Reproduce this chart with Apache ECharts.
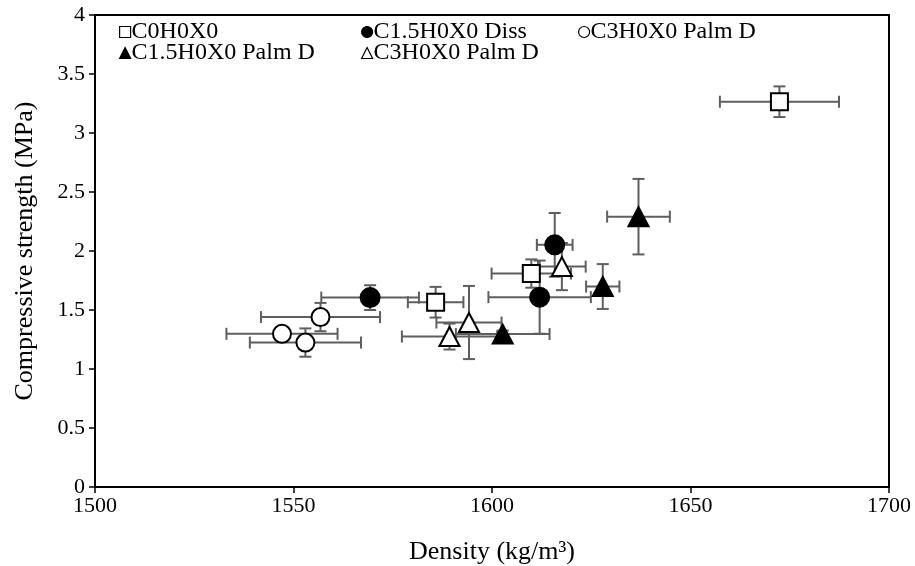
<!DOCTYPE html>
<html>
<head>
<meta charset="utf-8">
<script src="https://cdn.jsdelivr.net/npm/echarts@6/dist/echarts.min.js"></script>
<style>html,body{margin:0;padding:0;background:#fff}#c{width:915px;height:566px}</style>
</head>
<body>
<div id="c"></div>
<script>
// ---- Data ----
const seriesNames = ['C0H0X0', 'C1.5H0X0 Diss', 'C3H0X0 Palm D', 'C1.5H0X0 Palm D', 'C3H0X0 Palm D '];
const xTicks = [1500, 1550, 1600, 1650, 1700];
const yTicks = [0, 0.5, 1, 1.5, 2, 2.5, 3, 3.5, 4];

// C0H0X0 (open square)
const sqX = [1672.4, 1585.8, 1609.9];
const sqY = [3.265, 1.566, 1.809];
const sqXErr = [15, 7, 10];
const sqYErr = [0.13, 0.13, 0.12];

// C1.5H0X0 Diss (filled circle)
const fcX = [1569.3, 1615.8, 1612.0];
const fcY = [1.605, 2.052, 1.609];
const fcXErr = [12.3, 4.5, 12.9];
const fcYErr = [0.105, 0.27, 0.31];

// C3H0X0 Palm D (open circle)
const ocX = [1547.1, 1553.0, 1556.8];
const ocY = [1.298, 1.224, 1.44];
const ocXErr = [14, 14, 15];
const ocYErr = [0.03, 0.12, 0.12];

// C1.5H0X0 Palm D (filled triangle)
const ftX = [1602.7, 1627.9, 1636.9];
const ftY = [1.296, 1.699, 2.291];
const ftXErr = [11.8, 4.2, 7.9];
const ftYErr = [0.03, 0.19, 0.32];

// C3H0X0 Palm D (open triangle)
const otX = [1589.3, 1594.2, 1617.6];
const otY = [1.275, 1.394, 1.868];
const otXErr = [12, 8.2, 6];
const otYErr = [0.11, 0.31, 0.2];

// ---- Build ----
function pts(xs, ys) { return xs.map((x, i) => [x, ys[i]]); }
function errs(xs, ys, xe, ye) { return xs.map((x, i) => [x, ys[i], xe[i], ye[i]]); }

const groups = [
  { name: seriesNames[0], sym: 'rect', size: 17, fill: '#fff', d: pts(sqX, sqY), e: errs(sqX, sqY, sqXErr, sqYErr) },
  { name: seriesNames[1], sym: 'circle', size: 19, fill: '#000', d: pts(fcX, fcY), e: errs(fcX, fcY, fcXErr, fcYErr) },
  { name: seriesNames[2], sym: 'circle', size: 18, fill: '#fff', d: pts(ocX, ocY), e: errs(ocX, ocY, ocXErr, ocYErr) },
  { name: seriesNames[3], sym: 'triangle', size: [20, 19], fill: '#000', d: pts(ftX, ftY), e: errs(ftX, ftY, ftXErr, ftYErr) },
  { name: seriesNames[4], sym: 'triangle', size: [20, 19], fill: '#fff', d: pts(otX, otY), e: errs(otX, otY, otXErr, otYErr) }
];

const ERR_COLOR = '#5f5f5f';
const CAP = 6;
function renderErr(params, api) {
  const x = api.value(0), y = api.value(1), xe = api.value(2), ye = api.value(3);
  const l = api.coord([x - xe, y]), r = api.coord([x + xe, y]);
  const t = api.coord([x, y + ye]), b = api.coord([x, y - ye]);
  const st = { stroke: ERR_COLOR, lineWidth: 2 };
  return {
    type: 'group',
    children: [
      { type: 'line', shape: { x1: l[0], y1: l[1], x2: r[0], y2: r[1] }, style: st },
      { type: 'line', shape: { x1: l[0], y1: l[1] - CAP, x2: l[0], y2: l[1] + CAP }, style: st },
      { type: 'line', shape: { x1: r[0], y1: r[1] - CAP, x2: r[0], y2: r[1] + CAP }, style: st },
      { type: 'line', shape: { x1: t[0], y1: t[1], x2: b[0], y2: b[1] }, style: st },
      { type: 'line', shape: { x1: t[0] - CAP, y1: t[1], x2: t[0] + CAP, y2: t[1] }, style: st },
      { type: 'line', shape: { x1: b[0] - CAP, y1: b[1], x2: b[0] + CAP, y2: b[1] }, style: st }
    ]
  };
}

const series = [];
groups.forEach(g => {
  series.push({
    type: 'custom', name: g.name + '_err', renderItem: renderErr, data: g.e,
    z: 1, silent: true, encode: { x: 0, y: 1 }
  });
});
groups.forEach(g => {
  series.push({
    type: 'scatter', name: g.name, data: g.d, symbol: g.sym, symbolSize: g.size, z: 5,
    itemStyle: { color: g.fill, borderColor: '#000', borderWidth: 2, opacity: 1 }
  });
});

const FONT = 'Liberation Serif';
const legPos = [
  { left: 119, top: 20 }, { left: 361, top: 20 }, { left: 578, top: 20 },
  { left: 119, top: 41 }, { left: 361, top: 41 }
];
const legends = groups.map((g, i) => ({
  data: [{ name: g.name, icon: g.sym }],
  left: legPos[i].left, top: legPos[i].top, padding: 0,
  itemWidth: 11, itemHeight: 11, itemGap: 0,
  itemStyle: { borderWidth: 1.2 },
  textStyle: { fontFamily: FONT, fontSize: 24, color: '#000', padding: [0, 0, 0, -4] },
  selectedMode: false
}));

const chart = echarts.init(document.getElementById('c'), null, { renderer: 'canvas' });
chart.setOption({
  backgroundColor: '#fff',
  animation: false,
  legend: legends,
  grid: { left: 95, right: 26, top: 15, bottom: 79, containLabel: false, outerBoundsMode: 'none', show: true, borderColor: '#000', borderWidth: 2, backgroundColor: 'transparent' },
  xAxis: {
    type: 'value', min: xTicks[0], max: xTicks[xTicks.length - 1], interval: 50,
    name: 'Density (kg/m³)', nameLocation: 'middle', nameGap: 52,
    nameTextStyle: { fontFamily: FONT, fontSize: 26, color: '#000' },
    axisLine: { show: true, onZero: false, lineStyle: { color: '#000', width: 2 } },
    axisTick: { show: true, inside: false, length: 6, lineStyle: { color: '#000', width: 1.5 } },
    axisLabel: { fontFamily: FONT, fontSize: 22, color: '#000', margin: 8, formatter: v => String(v) },
    splitLine: { show: false }
  },
  yAxis: {
    type: 'value', min: yTicks[0], max: yTicks[yTicks.length - 1], interval: 0.5,
    name: 'Compressive strength (MPa)', nameLocation: 'middle', nameGap: 57, nameRotate: 90,
    nameTextStyle: { fontFamily: FONT, fontSize: 26, color: '#000' },
    axisLine: { show: true, onZero: false, lineStyle: { color: '#000', width: 2 } },
    axisTick: { show: true, inside: false, length: 6, lineStyle: { color: '#000', width: 1.5 } },
    axisLabel: { fontFamily: FONT, fontSize: 22, color: '#000', margin: 10, formatter: v => String(v) },
    splitLine: { show: false }
  },
  series: series
});
</script>
</body>
</html>
